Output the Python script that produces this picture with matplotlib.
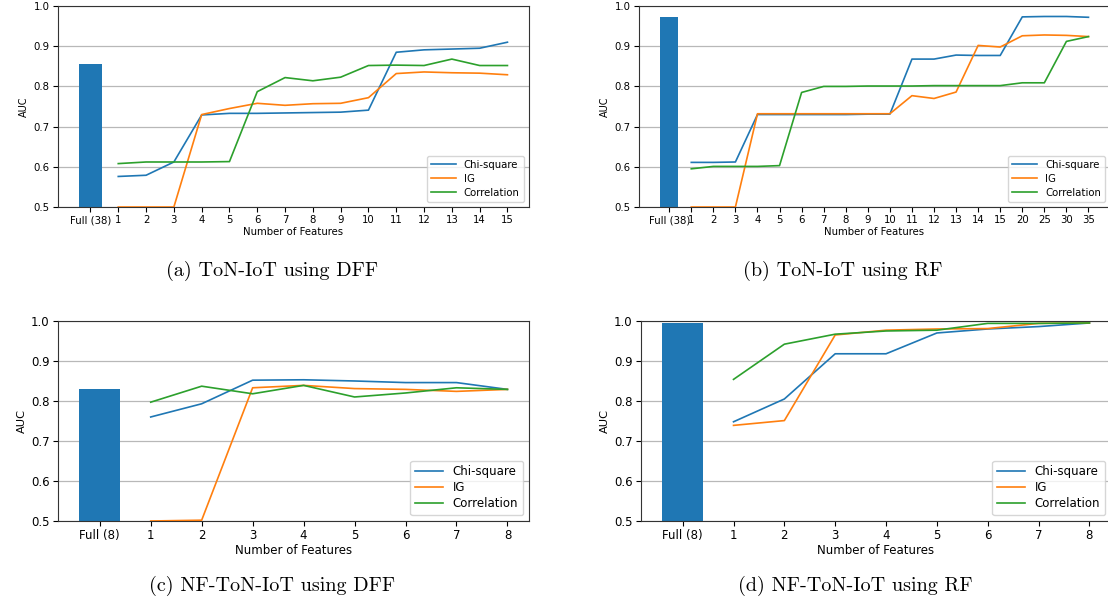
import matplotlib.pyplot as plt

# (a) ToN-IoT using DFF
labelsA = ['Full (38)'] + [str(i) for i in range(1, 16)]
fullA = 0.857
chiA = [0.576, 0.579, 0.612, 0.729, 0.733, 0.733, 0.734, 0.735, 0.736, 0.741,
        0.885, 0.891, 0.893, 0.895, 0.910]
igA = [0.500, 0.500, 0.500, 0.730, 0.745, 0.758, 0.753, 0.757, 0.758, 0.772,
       0.832, 0.836, 0.834, 0.833, 0.829]
corrA = [0.608, 0.612, 0.612, 0.612, 0.613, 0.787, 0.822, 0.814, 0.823, 0.852,
         0.853, 0.852, 0.868, 0.852, 0.852]

# (b) ToN-IoT using RF
labelsB = ['Full (38)'] + [str(i) for i in range(1, 16)] + ['20', '25', '30', '35']
fullB = 0.972
chiB = [0.611, 0.611, 0.612, 0.730, 0.730, 0.730, 0.730, 0.730, 0.731, 0.731,
        0.868, 0.868, 0.878, 0.877, 0.877, 0.973, 0.974, 0.974, 0.972]
igB = [0.500, 0.500, 0.500, 0.732, 0.732, 0.732, 0.732, 0.732, 0.732, 0.732,
       0.777, 0.770, 0.786, 0.902, 0.898, 0.926, 0.928, 0.927, 0.924]
corrB = [0.595, 0.601, 0.601, 0.601, 0.603, 0.785, 0.800, 0.800, 0.801, 0.801,
         0.801, 0.802, 0.802, 0.802, 0.802, 0.809, 0.809, 0.912, 0.924]

# (c) NF-ToN-IoT using DFF
labelsC = ['Full (8)'] + [str(i) for i in range(1, 9)]
fullC = 0.829
chiC = [0.760, 0.793, 0.852, 0.853, 0.850, 0.846, 0.846, 0.829]
igC = [0.500, 0.502, 0.833, 0.839, 0.831, 0.829, 0.824, 0.829]
corrC = [0.797, 0.837, 0.818, 0.839, 0.810, 0.820, 0.833, 0.829]

# (d) NF-ToN-IoT using RF
labelsD = ['Full (8)'] + [str(i) for i in range(1, 9)]
fullD = 0.995
chiD = [0.748, 0.805, 0.918, 0.918, 0.970, 0.980, 0.986, 0.995]
igD = [0.739, 0.751, 0.965, 0.977, 0.980, 0.981, 0.994, 0.995]
corrD = [0.854, 0.942, 0.967, 0.975, 0.977, 0.994, 0.994, 0.995]

captions = ['(a) ToN-IoT using DFF', '(b) ToN-IoT using RF',
            '(c) NF-ToN-IoT using DFF', '(d) NF-ToN-IoT using RF']


def drawPanel(ax, labels, full, chi, ig, corr, fs, spacing):
    xs = list(range(len(labels)))
    ax.bar(xs[0], full, width=0.8, color='#1f77b4', zorder=2)
    ax.plot(xs[1:], chi, color='#1f77b4', lw=1.2, label='Chi-square', zorder=3)
    ax.plot(xs[1:], ig, color='#ff7f0e', lw=1.2, label='IG', zorder=3)
    ax.plot(xs[1:], corr, color='#2ca02c', lw=1.2, label='Correlation', zorder=3)
    ax.set_ylim(0.5, 1.0)
    ax.set_yticks([0.5, 0.6, 0.7, 0.8, 0.9, 1.0])
    ax.set_xticks(xs)
    ax.set_xticklabels(labels)
    ax.tick_params(labelsize=fs, length=3.5, pad=2.5)
    ax.set_xlabel('Number of Features', fontsize=fs, labelpad=1)
    ax.set_ylabel('AUC', fontsize=fs - 0.3, labelpad=3)
    ax.yaxis.grid(True, color='#b8b8b8', lw=0.9, zorder=0)
    ax.set_axisbelow(True)
    for s in ax.spines.values():
        s.set_color('#333333')
    ax.legend(loc='lower right', fontsize=fs, labelspacing=spacing,
              handlelength=2.4)


fig = plt.figure(figsize=(11.08, 6.03), dpi=100)

axA = fig.add_axes([0.0523, 0.6567, 0.425, 0.3333])
axB = fig.add_axes([0.5767, 0.6567, 0.425, 0.3333])
axC = fig.add_axes([0.0523, 0.1360, 0.425, 0.3317])
axD = fig.add_axes([0.5785, 0.1360, 0.424, 0.3317])

drawPanel(axA, labelsA, fullA, chiA, igA, corrA, 7.3, 0.4)
drawPanel(axB, labelsB, fullB, chiB, igB, corrB, 7.3, 0.4)
drawPanel(axC, labelsC, fullC, chiC, igC, corrC, 8.5, 0.25)
drawPanel(axD, labelsD, fullD, chiD, igD, corrD, 8.5, 0.25)

capPos = [(272 / 1108, 1 - 271 / 603), (843 / 1108, 1 - 271 / 603),
          (272 / 1108, 1 - 586 / 603), (855 / 1108, 1 - 586 / 603)]
for (cx, cy), txt in zip(capPos, captions):
    fig.text(cx, cy, txt, ha='center', va='center', fontsize=14.5,
             family=['cmr10', 'DejaVu Serif'])

fig.savefig('out.png', dpi=100)
